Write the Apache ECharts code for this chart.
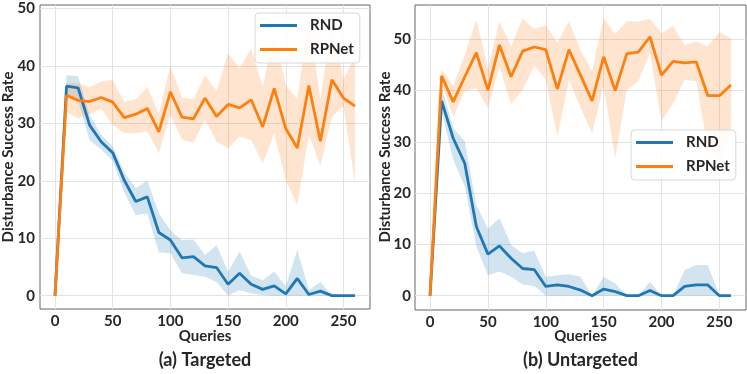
<!DOCTYPE html>
<html><head><meta charset="utf-8">
<script src="https://cdn.jsdelivr.net/npm/echarts@6/dist/echarts.min.js"></script>
<style>html,body{margin:0;padding:0;background:#fff}#c{width:747px;height:374px}</style>
</head><body><div id="c"></div><script>
const queries = [0,10,20,30,40,50,60,70,80,90,100,110,120,130,140,150,160,170,180,190,200,210,220,230,240,250,260];
const xTicks = [0,50,100,150,200,250];
const yTicksA = [0,10,20,30,40,50];
const yTicksB = [0,10,20,30,40,50];

// (a) Targeted
const tRndMean = [0,36.5,36.2,29.7,26.8,24.9,20.1,16.4,17.2,11.0,9.7,6.6,6.8,5.2,4.9,2.0,3.9,2.0,1.1,1.7,0.3,3.0,0.2,0.8,0,0,0];
const tRndLo   = [0,34.5,34.0,27.0,25.5,23.5,18.0,14.0,14.3,7.5,7.4,3.9,3.6,3.3,2.4,0,1.0,0.4,0.1,0,0,0,0,0,0,0,0];
const tRndHi   = [0,38.4,38.2,31.5,28.0,26.0,21.5,18.7,20.1,14.3,11.4,9.7,9.8,7.1,8.8,4.2,7.7,3.5,2.7,4.2,1.6,8.0,1.0,2.4,0,0,0];
const tRpMean  = [0,34.9,34.0,33.8,34.5,33.7,31.0,31.6,32.6,28.5,35.5,31.1,30.8,34.4,31.2,33.3,32.7,34.1,29.4,36.1,29.1,25.7,36.6,26.9,37.6,34.4,33.0];
const tRpLo    = [0,32.0,30.9,31.5,32.6,29.7,28.3,28.3,28.6,24.9,31.5,27.2,26.6,30.7,26.8,25.7,27.7,27.1,23.0,28.3,20.1,15.8,28.0,22.6,31.2,32.9,19.6];
const tRpHi    = [0,37.0,37.0,36.3,37.3,37.6,33.7,34.2,36.3,31.7,40.0,34.5,34.2,38.4,35.7,42.2,39.6,43.1,36.4,45.4,36.7,34.2,48.6,34.1,47.7,37.6,41.9];

// (b) Untargeted
const uRndMean = [0,38.0,30.7,25.8,13.5,8.1,9.7,7.3,5.3,5.1,1.8,2.1,1.8,1.1,0,1.3,0.8,0,0,1.0,0,0,1.8,2.1,2.1,0,0];
const uRndLo   = [0,36.0,26.5,21.3,9.6,4.0,4.7,3.7,2.2,1.9,0,0,0,0,0,0,0,0,0,0,0,0,0,0,0,0,0];
const uRndHi   = [0,40.7,32.7,30.1,17.7,13.1,15.1,9.9,8.3,8.8,3.7,4.0,4.2,3.7,0,3.7,2.4,0,0,2.7,0,0,5.0,6.0,6.0,0,0];
const uRpMean  = [0,42.9,37.8,42.7,47.4,40.1,48.9,42.7,47.7,48.5,48.0,40.3,48.0,43.0,38.0,46.6,40.0,47.2,47.5,50.5,43.0,45.7,45.4,45.6,39.0,39.0,41.1];
const uRpLo    = [0,41.4,34.9,39.8,40.5,36.6,44.7,37.5,40.1,44.9,42.1,31.0,42.1,36.6,31.7,40.8,26.8,40.1,41.8,47.3,34.0,37.5,42.1,41.8,29.0,26.0,32.0];
const uRpHi    = [0,44.2,40.9,47.0,53.8,44.4,53.5,48.6,54.1,52.0,52.8,49.4,53.5,47.9,43.7,54.1,51.0,53.5,53.4,54.0,51.2,52.6,48.9,49.6,48.6,51.4,50.2];

const BLUE = '#1f77b4', ORANGE = '#ff7f0e';
const BLUE_A = 'rgba(31,119,180,0.2)', ORANGE_A = 'rgba(255,127,14,0.2)';
const FONT = 'Lato';
const TXT = '#262626';

function pairs(arr){ return queries.map((q,i)=>[q,arr[i]]); }

// band drawn as one polygon per series, positions computed with api.coord from the data rows [x, lo, hi]
function band(idx, key, lo, hi, fill){
  const rows = queries.map((q,i)=>[q, lo[i], hi[i]]);
  return {type:'custom', name:key, xAxisIndex:idx, yAxisIndex:idx, data:rows, silent:true, z:1,
    encode:{x:0, y:[1,2]},
    renderItem:function(params, api){
      if (params.dataIndex !== 0) return null;
      const top = [], bot = [];
      for (let i = 0; i < rows.length; i++){
        top.push(api.coord([rows[i][0], rows[i][2]]));
        bot.push(api.coord([rows[i][0], rows[i][1]]));
      }
      const pts = top.concat(bot.reverse());
      return {type:'polygon', shape:{points:pts}, style:{fill:fill, stroke:null}};
    }};
}
function mainLine(idx, name, arr, color, z){
  return {type:'line', name:name, xAxisIndex:idx, yAxisIndex:idx, data:pairs(arr), symbol:'none',
    color:color, lineStyle:{color:color, width:2.8}, itemStyle:{color:color}, z:z};
}

function xAx(idx){
  return {type:'value', gridIndex:idx, min:-13, max:273,
    axisLine:{show:false}, axisTick:{show:false, customValues:xTicks},
    axisLabel:{customValues:xTicks, margin:5, color:TXT, fontFamily:FONT, fontWeight:'bold', fontSize:15},
    splitLine:{show:true, lineStyle:{color:'#e3e3e3', width:1}}};
}
function yAx(idx, mn, mx, ticks, margin){
  return {type:'value', gridIndex:idx, min:mn, max:mx,
    axisLine:{show:false}, axisTick:{show:false, customValues:ticks},
    axisLabel:{customValues:ticks, margin:margin, color:TXT, fontFamily:FONT, fontWeight:'bold', fontSize:15},
    splitLine:{show:true, lineStyle:{color:'#e3e3e3', width:1}}};
}
function legend(left, top){
  return {data:['RND','RPNet'], orient:'vertical', left:left, top:top, icon:'rect',
    itemWidth:37, itemHeight:3, itemGap:9, padding:[5,6,6,5],
    backgroundColor:'rgba(255,255,255,0.85)', borderColor:'#d8d8d8', borderWidth:1, borderRadius:4,
    textStyle:{fontFamily:FONT, fontWeight:'bold', fontSize:15, color:TXT, lineHeight:15, padding:[0,0,0,8]},
    selectedMode:false};
}
function txt(x,y,text,size,rot){
  return {type:'text', x:x, y:y, rotation:rot||0, silent:true,
    style:{text:text, fill:TXT, font:'bold '+size+'px '+FONT, align:'center', verticalAlign:'middle'}};
}

const chart = echarts.init(document.getElementById('c'), null, {renderer:'canvas'});
chart.setOption({
  animation:false,
  backgroundColor:'#fff',
  grid:[
    {left:40, top:5, width:330, height:304, show:true, borderColor:'#666', borderWidth:1, backgroundColor:'transparent'},
    {left:415, top:5, width:331, height:305, show:true, borderColor:'#666', borderWidth:1, backgroundColor:'transparent'}
  ],
  xAxis:[xAx(0), xAx(1)],
  yAxis:[yAx(0,-2.32,50.61,yTicksA,5), yAx(1,-2.79,56.69,yTicksB,4)],
  legend:[legend(255,13), legend(631,130)],
  series:[
    band(0,'tRnd',tRndLo,tRndHi,BLUE_A),
    band(0,'tRp',tRpLo,tRpHi,ORANGE_A),
    mainLine(0,'RND',tRndMean,BLUE,3), mainLine(0,'RPNet',tRpMean,ORANGE,4),
    band(1,'uRnd',uRndLo,uRndHi,BLUE_A),
    band(1,'uRp',uRpLo,uRpHi,ORANGE_A),
    mainLine(1,'RND',uRndMean,BLUE,3), mainLine(1,'RPNet',uRpMean,ORANGE,4)
  ],
  graphic:[
    txt(8.5,157,'Disturbance Success Rate',15,Math.PI/2),
    txt(385,157,'Disturbance Success Rate',15,Math.PI/2),
    txt(205,336.5,'Queries',15),
    txt(580.5,336.5,'Queries',15),
    txt(205,360,'(a) Targeted',18),
    txt(580.5,360,'(b) Untargeted',18)
  ]
});
</script></body></html>
